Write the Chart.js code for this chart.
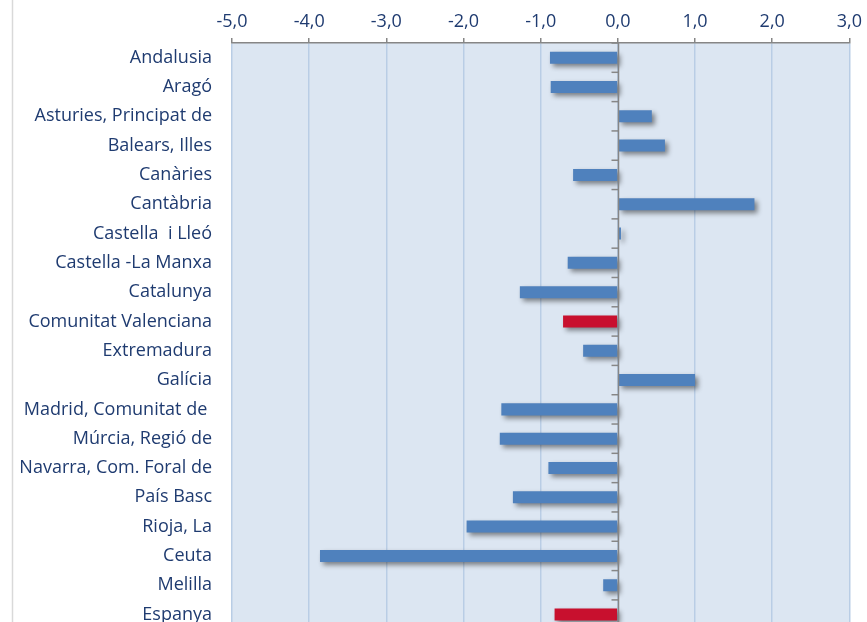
<!DOCTYPE html>
<html>
<head>
<meta charset="utf-8">
<script src="https://cdn.jsdelivr.net/npm/chart.js@4/dist/chart.umd.min.js"></script>
<style>
  html, body { margin: 0; padding: 0; background: #ffffff; overflow: hidden; }
  canvas { display: block; }
</style>
</head>
<body>
<canvas id="c" width="867" height="660"></canvas>
<script>
const categories = [
  'Andalusia', 'Aragó', 'Asturies, Principat de', 'Balears, Illes', 'Canàries',
  'Cantàbria', 'Castella  i Lleó', 'Castella -La Manxa', 'Catalunya',
  'Comunitat Valenciana', 'Extremadura', 'Galícia', 'Madrid, Comunitat de ',
  'Múrcia, Regió de', 'Navarra, Com. Foral de', 'País Basc', 'Rioja, La',
  'Ceuta', 'Melilla', 'Espanya'
];
const values = [
  -0.88, -0.87, 0.44, 0.61, -0.58,
  1.77, 0.04, -0.65, -1.27,
  -0.71, -0.45, 1.00, -1.51,
  -1.53, -0.90, -1.36, -1.96,
  -3.86, -0.19, -0.82
];
const highlighted = ['Comunitat Valenciana', 'Espanya'];
const xTickValues = [-5, -4, -3, -2, -1, 0, 1, 2, 3];
const xTickLabels = ['-5,0', '-4,0', '-3,0', '-2,0', '-1,0', '0,0', '1,0', '2,0', '3,0'];

const BLUE = '#4F81BD';
const RED = '#C8102E';
const TEXT = '#1F3B70';
const FONT = 'Open Sans';

const plotBg = {
  id: 'plotBg',
  beforeDraw(chart) {
    const { ctx, chartArea: a } = chart;
    ctx.save();
    ctx.fillStyle = '#DCE6F2';
    ctx.fillRect(a.left, a.top, a.right - a.left, a.bottom - a.top);
    ctx.strokeStyle = '#D9D9D9';
    ctx.lineWidth = 1.5;
    ctx.beginPath();
    ctx.moveTo(12.5, 0);
    ctx.lineTo(12.5, chart.height);
    ctx.stroke();
    ctx.restore();
  }
};

const barShadow = {
  id: 'barShadow',
  beforeDatasetsDraw(chart) {
    const ctx = chart.ctx;
    ctx.save();
    ctx.shadowColor = 'rgba(0,0,0,0.45)';
    ctx.shadowBlur = 5;
    ctx.shadowOffsetX = 3;
    ctx.shadowOffsetY = 3;
  },
  afterDatasetsDraw(chart) {
    chart.ctx.restore();
    const { ctx, chartArea: a } = chart;
    const xs = chart.scales.x, ys = chart.scales.y;
    const x0 = Math.round(xs.getPixelForValue(0)) + 0.5;
    ctx.save();
    ctx.strokeStyle = '#868686';
    ctx.lineWidth = 1.5;
    ctx.beginPath();
    ctx.moveTo(x0, a.top);
    ctx.lineTo(x0, a.bottom);
    ctx.stroke();
    const n = categories.length;
    for (let i = 0; i <= n; i++) {
      const y = ys.getPixelForValue(i - 0.5);
      ctx.beginPath();
      ctx.moveTo(x0 - 7, y);
      ctx.lineTo(x0, y);
      ctx.stroke();
    }
    ctx.restore();
  }
};

new Chart(document.getElementById('c'), {
  type: 'bar',
  data: {
    labels: categories,
    datasets: [{
      data: values,
      backgroundColor: categories.map(c => highlighted.includes(c) ? RED : BLUE),
      borderWidth: 0,
      categoryPercentage: 1.0,
      barPercentage: 0.41
    }]
  },
  options: {
    indexAxis: 'y',
    responsive: false,
    maintainAspectRatio: false,
    animation: false,
    layout: { padding: { left: 0, right: 15, top: 0, bottom: 3 } },
    plugins: { legend: { display: false }, tooltip: { enabled: false } },
    scales: {
      x: {
        position: 'top',
        min: -5,
        max: 3,
        afterBuildTicks(scale) {
          scale.ticks = xTickValues.map(v => ({ value: v }));
        },
        afterFit(scale) { scale.height = 43; },
        ticks: {
          color: TEXT,
          font: { family: FONT, size: 18 },
          padding: 5,
          maxRotation: 0,
          callback(value) {
            const i = xTickValues.indexOf(value);
            return i >= 0 ? xTickLabels[i] : '';
          }
        },
        grid: {
          color: '#B9CDE5',
          lineWidth: 1.5,
          tickColor: '#868686',
          tickLength: 5,
          drawTicks: true
        },
        border: { display: true, color: '#868686', width: 1.5 }
      },
      y: {
        offset: true,
        afterFit(scale) { scale.width = 232; },
        ticks: {
          color: TEXT,
          font: { family: FONT, size: 18 },
          padding: 20,
          autoSkip: false
        },
        grid: { display: false, drawTicks: false },
        border: { display: false }
      }
    }
  },
  plugins: [plotBg, barShadow]
});
</script>
</body>
</html>
